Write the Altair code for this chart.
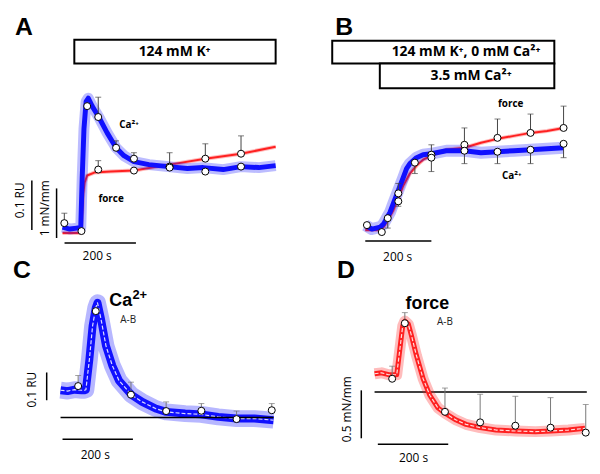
import altair as alt
import pandas as pd

# ---------------- Panel A : 124 mM K+ ----------------
A_CA_T = [0, 20, 40, 51, 55, 60, 66, 72, 83, 103, 125, 150, 172, 200, 242, 297, 350, 394, 450, 500, 550, 597]
A_CA_V = [0.002, -0.002, 0.0, 0.0, 0.1, 0.2, 0.255, 0.262, 0.246, 0.222, 0.192, 0.162, 0.146, 0.134, 0.128,
          0.124, 0.12, 0.122, 0.118, 0.124, 0.122, 0.126]
A_F_T = [0, 51, 55, 58, 62, 69, 89, 135, 200, 300, 400, 500, 597]
A_F_V = [0, 0, 0.4, 0.8, 1.02, 1.16, 1.22, 1.24, 1.26, 1.38, 1.5, 1.6, 1.74]
A_CA_PT_T = [5, 69, 100, 150, 200, 300, 400, 500]
A_CA_PT_V = [0.01, 0.246, 0.224, 0.162, 0.14, 0.122, 0.114, 0.124]
A_CA_ERR_T = [5, 100, 150, 200, 300]
A_CA_ERR_LO = [0.01, 0.224, 0.162, 0.14, 0.122]
A_CA_ERR_HI = [0.03, 0.264, 0.176, 0.152, 0.152]
A_F_PT_T = [53, 100, 200, 300, 400, 500]
A_F_PT_V = [0.04, 1.28, 1.26, 1.34, 1.5, 1.6]
A_F_ERR_T = [100, 400, 500]
A_F_ERR_LO = [1.28, 1.5, 1.6]
A_F_ERR_HI = [1.46, 1.8, 1.96]

# ---------------- Panel B : 124 mM K+, 0 mM Ca2+ -> 3.5 mM Ca2+ ----------------
B_CA_T = [0, 20, 45, 55, 65, 75, 85, 100, 115, 125, 135, 155, 175, 200, 245, 300, 350, 400, 450, 500, 550, 600]
B_CA_V = [0.004, -0.004, 0.0, 0.006, 0.018, 0.03, 0.048, 0.074, 0.1, 0.118, 0.128, 0.14, 0.146, 0.148, 0.154,
          0.154, 0.15, 0.152, 0.154, 0.156, 0.158, 0.16]
B_F_T = [0, 45, 55, 65, 75, 85, 100, 115, 135, 155, 175, 200, 245, 300, 350, 400, 450, 500, 550, 600]
B_F_V = [0, 0, 0.06, 0.16, 0.28, 0.4, 0.64, 0.9, 1.14, 1.3, 1.42, 1.5, 1.62, 1.66, 1.76, 1.84, 1.9, 1.96, 2.0, 2.06]
B_CA_PT_T = [5, 68, 100, 150, 200, 300, 400, 500, 600]
B_CA_PT_V = [0.004, 0.018, 0.068, 0.13, 0.14, 0.154, 0.152, 0.156, 0.168]
B_CA_ERR_T = [68, 100, 150, 200, 300, 400, 500, 600]
B_CA_ERR_LO = [0.018, 0.068, 0.13, 0.14, 0.154, 0.152, 0.156, 0.168]
B_CA_ERR_HI = [-0.002, 0.042, 0.108, 0.112, 0.128, 0.128, 0.128, 0.14]
B_F_PT_T = [50, 100, 200, 300, 400, 500, 600]
B_F_PT_V = [-0.04, 0.58, 1.52, 1.72, 1.86, 1.96, 2.06]
B_F_ERR_T = [100, 200, 300, 400, 500, 600]
B_F_ERR_LO = [0.58, 1.52, 1.72, 1.86, 1.96, 2.06]
B_F_ERR_HI = [0.94, 1.72, 2.06, 2.24, 2.34, 2.5]

# ---------------- Panel C : Ca2+ A-B ----------------
C_T = [0, 20, 40, 60, 68, 72, 82, 91, 100, 105, 115, 129, 147, 166, 201, 232, 270, 300, 354, 399, 448, 500, 551, 605]
C_V = [0.098, 0.095, 0.1, 0.098, 0.098, 0.1, 0.21, 0.33, 0.395, 0.413, 0.354, 0.258, 0.187, 0.133, 0.082, 0.056,
       0.032, 0.02, 0.014, 0.011, 0.002, -0.004, -0.004, -0.01]
C_PT_T = [50, 100, 200, 300, 400, 500, 600]
C_PT_V = [0.113, 0.383, 0.082, 0.023, 0.024, -0.006, 0.026]
C_ERR_T = [50, 200, 300, 400, 500, 600]
C_ERR_LO = [0.113, 0.082, 0.023, 0.024, -0.006, 0.026]
C_ERR_HI = [0.151, 0.127, 0.056, 0.05, 0.023, 0.05]

# ---------------- Panel D : force A-B ----------------
D_T = [0, 20, 40, 63, 72, 80, 86, 96, 105, 119, 138, 157, 180, 201, 232, 260, 300, 345, 401, 457, 501, 551, 598]
D_V = [0.19, 0.2, 0.18, 0.18, 0.45, 0.69, 0.74, 0.707, 0.586, 0.38, 0.138, -0.034, -0.166, -0.224, -0.293,
       -0.338, -0.372, -0.397, -0.407, -0.414, -0.407, -0.397, -0.379]
D_PT_T = [50, 86, 200, 300, 400, 500, 600]
D_PT_V = [0.138, 0.717, -0.207, -0.317, -0.352, -0.372, -0.424]
D_ERR_T = [50, 86, 200, 300, 400, 500, 600]
D_ERR_LO = [0.138, 0.717, -0.207, -0.317, -0.352, -0.372, -0.424]
D_ERR_HI = [0.269, 0.828, 0.041, -0.024, -0.045, -0.059, -0.131]

BLUE = "#1010ff"
RED = "#ff2020"


def S(dom):
    return alt.Scale(domain=list(dom), nice=False, zero=False)


def ex(field, dom):
    return alt.X(field, type="quantitative", scale=S(dom), axis=None)


def ey(field, dom):
    return alt.Y(field, type="quantitative", scale=S(dom), axis=None)


def trace(t, v, xd, yd, color, width, opacity=1.0, dash=None):
    df = pd.DataFrame({"t": t, "v": v})
    kw = dict(color=color, strokeWidth=width, opacity=opacity, strokeJoin="round", strokeCap="butt")
    if dash:
        kw["strokeDash"] = dash
    return alt.Chart(df).mark_line(**kw).encode(x=ex("t", xd), y=ey("v", yd))


def points(t, v, xd, yd, size=50):
    df = pd.DataFrame({"t": t, "v": v})
    return alt.Chart(df).mark_point(shape="circle", filled=True, fill="white", stroke="black",
                                    strokeWidth=1, size=size, opacity=1).encode(x=ex("t", xd), y=ey("v", yd))


def errs(t, lo, hi, xd, yd, color, cap=6):
    df = pd.DataFrame({"t": t, "lo": lo, "hi": hi})
    base = alt.Chart(df)
    r = base.mark_rule(color=color, strokeWidth=1).encode(x=ex("t", xd), y=ey("lo", yd), y2="hi")
    k = base.mark_tick(color=color, orient="horizontal", size=cap, thickness=1).encode(
        x=ex("t", xd), y=ey("hi", yd))
    return [r, k]


def label(t, v, text, xd, yd, **kw):
    df = pd.DataFrame({"t": [t], "v": [v], "s": [text]})
    return alt.Chart(df).mark_text(**kw).encode(x=ex("t", xd), y=ey("v", yd), text="s:N")


def box(t1, t2, v1, v2, xd, yd):
    df = pd.DataFrame({"t1": [t1], "t2": [t2], "v1": [v1], "v2": [v2]})
    return alt.Chart(df).mark_rect(fill="white", stroke="black", strokeWidth=2).encode(
        x=ex("t1", xd), x2="t2", y=ey("v1", yd), y2="v2")


def hbar(t1, t2, v, xd, yd, width=1.5, color="black"):
    df = pd.DataFrame({"t1": [t1], "t2": [t2], "v": [v]})
    return alt.Chart(df).mark_rule(color=color, strokeWidth=width).encode(
        x=ex("t1", xd), x2="t2", y=ey("v", yd))


def vbar(t, v1, v2, xd, yd, width=1.5):
    df = pd.DataFrame({"t": [t], "v1": [v1], "v2": [v2]})
    return alt.Chart(df).mark_rule(color="black", strokeWidth=width).encode(
        x=ex("t", xd), y=ey("v1", yd), y2="v2")


LETTER = dict(font="Liberation Sans", fontSize=25, fontWeight="bold", align="center", baseline="alphabetic",
              color="black")
BOXTXT = dict(font="Open Sans", fontSize=14, fontWeight="bold", align="center", baseline="middle", color="black")
SMALL = dict(font="Open Sans", fontSize=10, fontWeight="bold", align="center", baseline="middle", color="black")
SEC = dict(font="Open Sans", fontSize=12, align="center", baseline="middle", color="black")
ROT = dict(font="Open Sans", fontSize=12, align="center", baseline="middle", angle=270, color="black")
BIG = dict(font="Liberation Sans", fontSize=18, fontWeight="bold", align="center", baseline="alphabetic",
           color="black")
AB = dict(font="Open Sans", fontSize=10, align="center", baseline="middle", color="#222222")

W = 292
H_TOP = 237
H_BOT = 221

# ---- Panel A ----
ax = (-152.8, 658.3)
ay = (-0.034, 0.44)
af = (-0.24, 4.5)
layA = [
    box(33, 597, 0.332, 0.38, ax, ay),
    label(314, 0.356, "124 mM K⁺", ax, ay, **BOXTXT),
    label(-108, 0.39, "A", ax, ay, **LETTER),
    trace(A_F_T, A_F_V, ax, af, RED, 4, 0.3),
    trace(A_F_T, A_F_V, ax, af, RED, 2),
    trace(A_CA_T, A_CA_V, ax, ay, BLUE, 11, 0.28),
    trace(A_CA_T, A_CA_V, ax, ay, BLUE, 5),
    *errs(A_CA_ERR_T, A_CA_ERR_LO, A_CA_ERR_HI, ax, ay, "#444444"),
    *errs(A_F_ERR_T, A_F_ERR_LO, A_F_ERR_HI, ax, af, "#444444"),
    points(A_F_PT_T, A_F_PT_V, ax, af),
    points(A_CA_PT_T, A_CA_PT_V, ax, ay),
    label(186, 0.208, "Ca²⁺", ax, ay, **SMALL),
    label(136, 0.058, "force", ax, ay, **SMALL),
    vbar(-86, -0.004, -0.004 + 0.1, ax, ay),
    label(-119, 0.056, "0.1 RU", ax, ay, **ROT),
    vbar(-16.7, -0.1, -0.1 + 1.0, ax, af),
    label(-50, 0.04, "1 mN/mm", ax, ay, **ROT),
    hbar(5.6, 5.6 + 200, -0.03, ax, ay),
    label(97, -0.056, "200 s", ax, ay, **SEC),
]
panelA = alt.layer(*layA).resolve_scale(x="independent", y="independent").properties(width=W, height=H_TOP)

# ---- Panel B ----
bx = (-205.0, 671.0)
by = (-0.036, 0.438)
bf = (-0.3, 4.44)
layB = [
    box(-100, 572, 0.33, 0.376, bx, by),
    box(44, 572, 0.28, 0.33, bx, by),
    label(305, 0.354, "124 mM K⁺, 0 mM Ca²⁺", bx, by, **BOXTXT),
    label(320, 0.304, "3.5 mM Ca²⁺", bx, by, **BOXTXT),
    label(-64, 0.388, "B", bx, by, **LETTER),
    trace(B_F_T, B_F_V, bx, bf, RED, 4, 0.3),
    trace(B_F_T, B_F_V, bx, bf, RED, 2),
    trace(B_CA_T, B_CA_V, bx, by, BLUE, 12, 0.28),
    trace(B_CA_T, B_CA_V, bx, by, BLUE, 5),
    *errs(B_CA_ERR_T, B_CA_ERR_LO, B_CA_ERR_HI, bx, by, "#444444"),
    *errs(B_F_ERR_T, B_F_ERR_LO, B_F_ERR_HI, bx, bf, "#444444"),
    points(B_F_PT_T, B_F_PT_V, bx, bf),
    points(B_CA_PT_T, B_CA_PT_V, bx, by),
    label(440, 0.248, "force", bx, by, **SMALL),
    label(443, 0.102, "Ca²⁺", bx, by, **SMALL),
    hbar(0, 200, -0.028, bx, by),
    label(98, -0.06, "200 s", bx, by, **SEC),
]
panelB = alt.layer(*layB).resolve_scale(x="independent", y="independent").properties(width=W, height=H_TOP)

# ---- Panel C ----
cx = (-149.3, 673.2)
cy = (-0.1679, 0.6214)
layC = [
    label(-110, 0.504, "C", cx, cy, **LETTER),
    trace(C_T, C_V, cx, cy, BLUE, 17, 0.3),
    trace(C_T, C_V, cx, cy, BLUE, 8),
    trace(C_T, C_V, cx, cy, "white", 1.2, 0.85, [4, 2]),
    hbar(0, 605, 0.0, cx, cy, 1.5),
    *errs(C_ERR_T, C_ERR_LO, C_ERR_HI, cx, cy, "#777777"),
    points(C_PT_T, C_PT_V, cx, cy),
    label(171, 0.40, "Ca", cx, cy, **BIG),
    label(225, 0.425, "2+", cx, cy, **{**BIG, "fontSize": 13}),
    label(192, 0.35, "A-B", cx, cy, **AB),
    vbar(-39.4, 0.062, 0.062 + 0.1, cx, cy),
    label(-81.7, 0.1, "0.1 RU", cx, cy, **ROT),
    hbar(5.6, 5.6 + 200, -0.0786, cx, cy),
    label(98.6, -0.136, "200 s", cx, cy, **SEC),
]
panelC = alt.layer(*layC).resolve_scale(x="independent", y="independent").properties(width=W, height=H_BOT)

# ---- Panel D ----
dx = (-218.9, 603.7)
dy = (-0.752, 1.534)
layD = [
    label(-81, 1.19, "D", dx, dy, **LETTER),
    hbar(0, 603, 0.0, dx, dy, 1.5),
    trace(D_T, D_V, dx, dy, RED, 11, 0.3),
    trace(D_T, D_V, dx, dy, RED, 5),
    trace(D_T, D_V, dx, dy, "white", 1.2, 0.85, [4, 2]),
    *errs(D_ERR_T, D_ERR_LO, D_ERR_HI, dx, dy, "#777777"),
    points(D_PT_T, D_PT_V, dx, dy),
    label(150, 0.861, "force", dx, dy, **BIG),
    label(200, 0.73, "A-B", dx, dy, **AB),
    vbar(-37.7, -0.483, -0.483 + 0.5, dx, dy),
    label(-78, -0.18, "0.5 mN/mm", dx, dy, **ROT),
    hbar(9.3, 9.3 + 200, -0.545, dx, dy),
    label(110.7, -0.69, "200 s", dx, dy, **SEC),
]
panelD = alt.layer(*layD).resolve_scale(x="independent", y="independent").properties(width=W, height=H_BOT)

chart = alt.concat(panelA, panelB, panelC, panelD, columns=2, spacing=0, bounds="flush",
                   padding=0).configure_view(strokeWidth=0)

chart.save("out.html", embed_options={"renderer": "svg", "actions": False})
